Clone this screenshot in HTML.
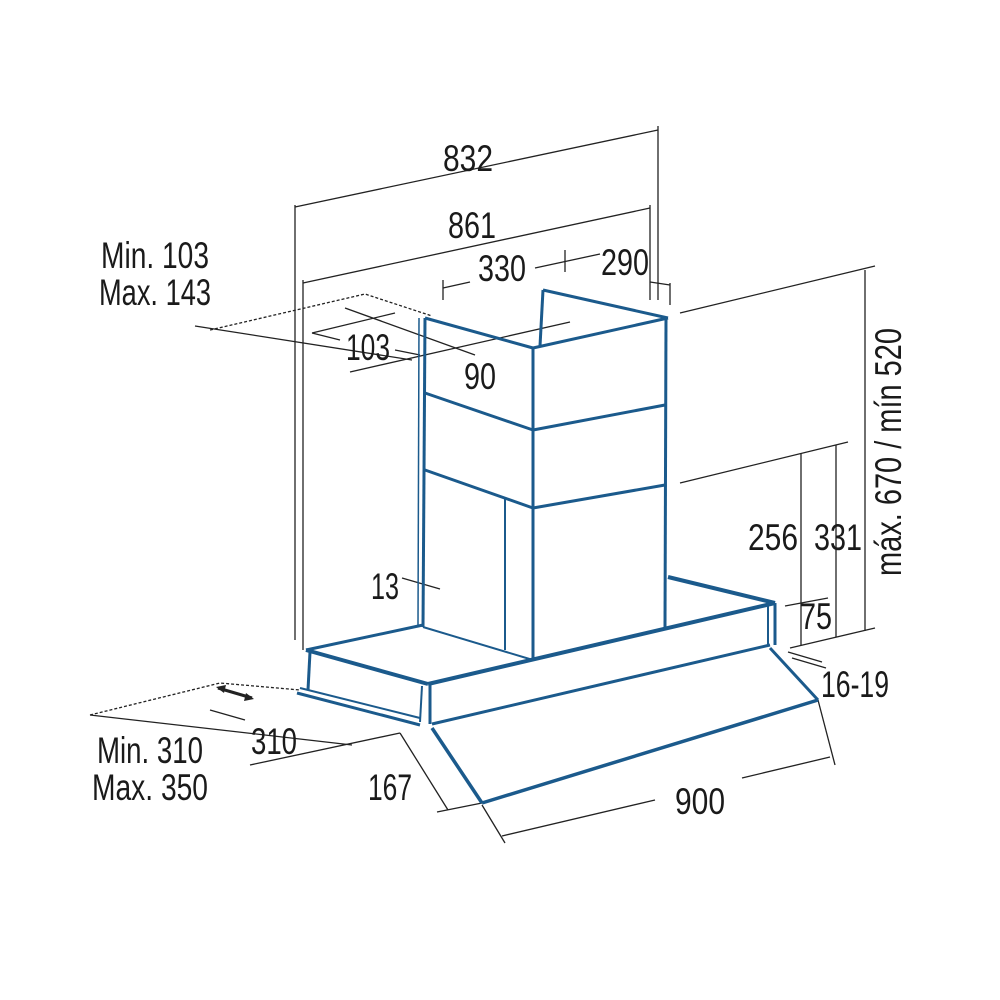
<!DOCTYPE html>
<html><head><meta charset="utf-8"><style>
html,body{margin:0;padding:0;background:#fff;}
svg{display:block;}
text{font-family:"Liberation Sans",sans-serif;font-size:37px;fill:#1a1a1a;}
</style></head><body>
<svg width="1000" height="1000" viewBox="0 0 1000 1000" xmlns="http://www.w3.org/2000/svg">
<g stroke="#222" stroke-width="1.3" fill="none">
<line x1="295" y1="205" x2="295" y2="640"/><line x1="658" y1="126" x2="658" y2="300"/>
<line x1="295" y1="207" x2="658" y2="130"/>
<line x1="303" y1="280" x2="303" y2="650"/><line x1="650" y1="205" x2="650" y2="300"/>
<line x1="303" y1="283" x2="650" y2="208"/>
<line x1="443" y1="280" x2="443" y2="300"/><line x1="565" y1="250" x2="565" y2="272"/><line x1="670" y1="283" x2="670" y2="305"/>
<line x1="443" y1="288" x2="470" y2="282"/><line x1="535" y1="268" x2="600" y2="254"/><line x1="650" y1="282" x2="670" y2="285"/>
<line x1="680" y1="313" x2="875" y2="266"/><line x1="865" y1="270" x2="865" y2="631"/>
<line x1="680" y1="483" x2="848" y2="442"/>
<line x1="801" y1="453" x2="801" y2="645"/><line x1="836" y1="445" x2="836" y2="637"/>
<line x1="790" y1="648" x2="875" y2="628"/>
<line x1="785" y1="606" x2="828" y2="598"/>
<line x1="788" y1="652" x2="822" y2="662"/><line x1="792" y1="658" x2="826" y2="668"/>
<line x1="195" y1="326" x2="412" y2="360"/>
<line x1="312" y1="333" x2="395" y2="313"/><line x1="350" y1="372" x2="570" y2="322"/>
<line x1="345" y1="308" x2="475" y2="355"/><line x1="395" y1="350" x2="420" y2="355"/>
<line x1="312" y1="333" x2="340" y2="340"/>
<polyline points="210,330 365,294 432,316" stroke-dasharray="3,2"/>
<line x1="402" y1="578" x2="440" y2="589"/>
<polyline points="90,715 220,683 300,690" stroke-dasharray="3,2"/>
<line x1="90" y1="715" x2="352" y2="745"/>
<line x1="210" y1="710" x2="245" y2="720"/>
<line x1="250" y1="765" x2="400" y2="733"/>
<line x1="400" y1="733" x2="448" y2="810"/><line x1="437" y1="812" x2="482" y2="803"/>
<line x1="482" y1="805" x2="505" y2="843"/><line x1="818" y1="700" x2="835" y2="765"/>
<line x1="502" y1="836" x2="655" y2="800"/><line x1="742" y1="778" x2="830" y2="757"/>
</g>
<g stroke="#222" stroke-width="3"><line x1="218" y1="688" x2="252" y2="698"/></g>
<polygon points="216,687 226,685 224,693" fill="#222"/><polygon points="254,699 244,701 246,693" fill="#222"/>

<g stroke="#1b5a8c" stroke-width="3" fill="none" stroke-linejoin="round">
<line x1="543" y1="290" x2="668" y2="318"/>
<line x1="543" y1="290" x2="540" y2="346"/>
<line x1="425" y1="318" x2="533" y2="348"/>
<line x1="533" y1="348" x2="668" y2="318"/>
<line x1="425" y1="318" x2="423" y2="627"/>
<line x1="533" y1="348" x2="533" y2="660"/>
<line x1="666" y1="318" x2="665" y2="627"/>
<line x1="425" y1="393" x2="533" y2="430"/><line x1="533" y1="430" x2="665" y2="405"/>
<line x1="425" y1="470" x2="533" y2="508"/><line x1="533" y1="508" x2="665" y2="485"/>
<line x1="505" y1="498" x2="505" y2="650" stroke-width="2"/>
<line x1="419" y1="318" x2="418" y2="625" stroke-width="1.5"/>
<line x1="423" y1="627" x2="533" y2="660" stroke-width="2"/>
<line x1="306" y1="650" x2="423" y2="625"/>
<line x1="306" y1="650" x2="428" y2="684" stroke-width="4"/>
<line x1="428" y1="684" x2="775" y2="603" stroke-width="4"/>
<line x1="668" y1="577" x2="775" y2="603" stroke-width="4"/>
<line x1="432" y1="724" x2="770" y2="645"/>
<line x1="430" y1="684" x2="430" y2="724"/>
<line x1="422" y1="686" x2="420" y2="722" stroke-width="2"/>
<line x1="775" y1="603" x2="775" y2="645"/><line x1="768" y1="606" x2="768" y2="645" stroke-width="2"/>
<line x1="310" y1="652" x2="308" y2="690"/>
<line x1="297" y1="693" x2="420" y2="725"/><line x1="300" y1="688" x2="420" y2="718" stroke-width="2"/>
<line x1="432" y1="728" x2="482" y2="803" stroke-width="3.5"/>
<line x1="482" y1="803" x2="818" y2="700" stroke-width="3.5"/>
<line x1="770" y1="648" x2="818" y2="700"/>
</g>
<g>
<text x="468" y="171" text-anchor="middle" textLength="50" lengthAdjust="spacingAndGlyphs">832</text>
<text x="472" y="238" text-anchor="middle" textLength="48" lengthAdjust="spacingAndGlyphs">861</text>
<text x="502" y="281" text-anchor="middle" textLength="48" lengthAdjust="spacingAndGlyphs">330</text>
<text x="625" y="275" text-anchor="middle" textLength="48" lengthAdjust="spacingAndGlyphs">290</text>
<text x="155" y="268" text-anchor="middle" textLength="108" lengthAdjust="spacingAndGlyphs">Min. 103</text>
<text x="155" y="305" text-anchor="middle" textLength="112" lengthAdjust="spacingAndGlyphs">Max. 143</text>
<text x="368" y="360" text-anchor="middle" textLength="44" lengthAdjust="spacingAndGlyphs">103</text>
<text x="480" y="389" text-anchor="middle" textLength="32" lengthAdjust="spacingAndGlyphs">90</text>
<text x="385" y="599" text-anchor="middle" textLength="28" lengthAdjust="spacingAndGlyphs">13</text>
<text x="773" y="550" text-anchor="middle" textLength="50" lengthAdjust="spacingAndGlyphs">256</text>
<text x="838" y="550" text-anchor="middle" textLength="48" lengthAdjust="spacingAndGlyphs">331</text>
<text x="816" y="629" text-anchor="middle" textLength="32" lengthAdjust="spacingAndGlyphs">75</text>
<text x="855" y="697" text-anchor="middle" textLength="68" lengthAdjust="spacingAndGlyphs">16-19</text>
<text x="274" y="754" text-anchor="middle" textLength="46" lengthAdjust="spacingAndGlyphs">310</text>
<text x="150" y="763" text-anchor="middle" textLength="106" lengthAdjust="spacingAndGlyphs">Min. 310</text>
<text x="150" y="800" text-anchor="middle" textLength="116" lengthAdjust="spacingAndGlyphs">Max. 350</text>
<text x="390" y="800" text-anchor="middle" textLength="44" lengthAdjust="spacingAndGlyphs">167</text>
<text x="700" y="814" text-anchor="middle" textLength="50" lengthAdjust="spacingAndGlyphs">900</text>
<text transform="translate(901,452) rotate(-90)" text-anchor="middle" textLength="248" lengthAdjust="spacingAndGlyphs">máx. 670 / mín 520</text>
</g>
</svg>
</body></html>
